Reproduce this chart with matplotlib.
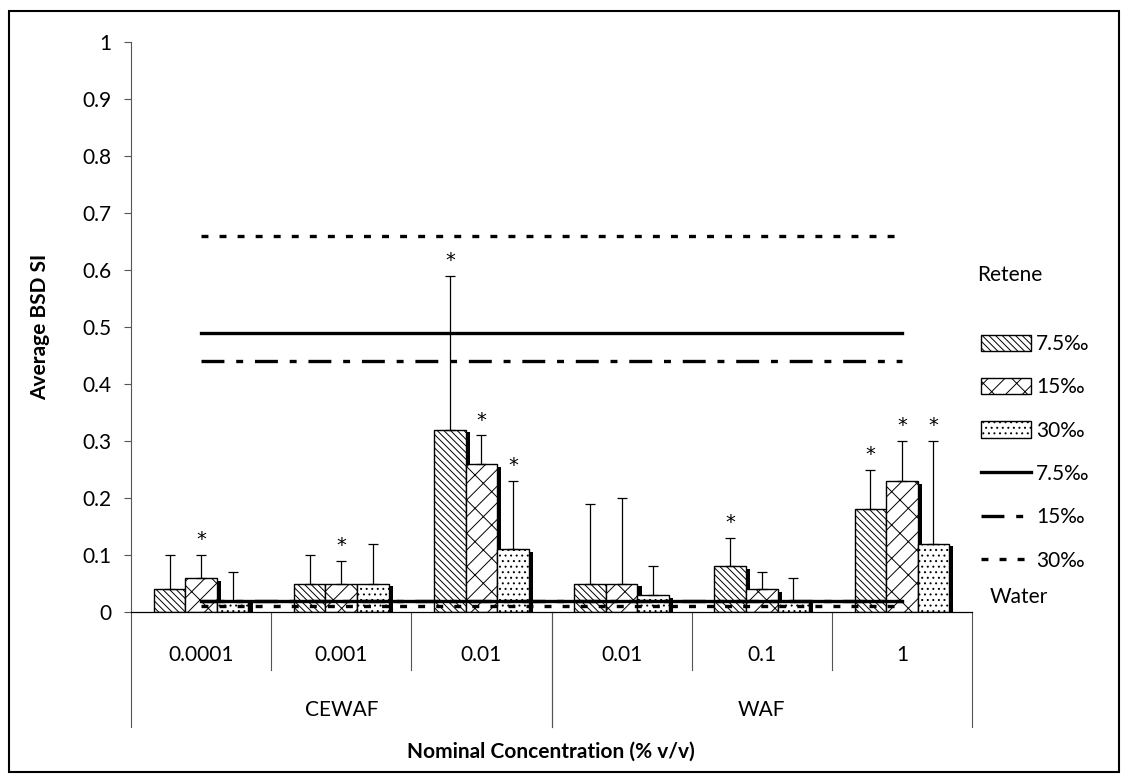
import matplotlib

matplotlib.use("Agg")
import matplotlib.pyplot as plt
import matplotlib.patheffects as pe
import numpy as np
from matplotlib.lines import Line2D
from matplotlib.patches import Patch, Rectangle

plt.rcParams["font.family"] = ["Lato", "DejaVu Sans"]
plt.rcParams["hatch.linewidth"] = 0.7
plt.rcParams["lines.scale_dashes"] = False

# data
concentrations = ["0.0001", "0.001", "0.01", "0.01", "0.1", "1"]
groups = ["CEWAF", "WAF"]
group_bounds = [(-0.5, 2.5), (2.5, 5.5)]
salinities = ["7.5‰", "15‰", "30‰"]

mean_75 = [0.04, 0.05, 0.32, 0.05, 0.08, 0.18]
mean_15 = [0.06, 0.05, 0.26, 0.05, 0.04, 0.23]
mean_30 = [0.02, 0.05, 0.11, 0.03, 0.02, 0.12]
err_75 = [0.06, 0.05, 0.27, 0.14, 0.05, 0.07]
err_15 = [0.04, 0.04, 0.05, 0.15, 0.03, 0.07]
err_30 = [0.05, 0.07, 0.12, 0.05, 0.04, 0.18]
sig_75 = [0, 0, 1, 0, 1, 1]
sig_15 = [1, 1, 1, 0, 0, 1]
sig_30 = [0, 0, 1, 0, 0, 1]

# retene and water control levels
retene_75 = [0.49, 0.49, 0.49, 0.49, 0.49, 0.49]
retene_15 = [0.44, 0.44, 0.44, 0.44, 0.44, 0.44]
retene_30 = [0.66, 0.66, 0.66, 0.66, 0.66, 0.66]
water_75 = [0.02, 0.02, 0.02, 0.02, 0.02, 0.02]
water_15 = [0.02, 0.02, 0.02, 0.02, 0.02, 0.02]
water_30 = [0.01, 0.01, 0.01, 0.01, 0.01, 0.01]

y_ticks = [0, 0.1, 0.2, 0.3, 0.4, 0.5, 0.6, 0.7, 0.8, 0.9, 1]
y_tick_labels = ["0", "0.1", "0.2", "0.3", "0.4", "0.5", "0.6", "0.7", "0.8", "0.9", "1"]

FS = 15
W, H = 1128, 781

fig = plt.figure(figsize=(W / 100, H / 100), dpi=100)
ax = fig.add_axes([131 / W, 1 - 612 / H, 841 / W, 570 / H])

x = np.arange(len(concentrations))
width = 0.225
hatches = ["\\\\\\\\\\", "//\\", "..."]
dash_15 = (16.5, 8.5, 5, 8.5)
dash_30 = (5, 8)
shadow = [pe.SimplePatchShadow(offset=(3, -2), shadow_rgbFace="black", alpha=1), pe.Normal()]

series = [(mean_75, err_75, sig_75), (mean_15, err_15, sig_15), (mean_30, err_30, sig_30)]
for i, (vals, errs, sig) in enumerate(series):
    xs = x + (i - 1) * width
    bars = ax.bar(xs, vals, width, color="white", edgecolor="black", linewidth=1,
                  hatch=hatches[i], zorder=2)
    for b in bars:
        b.set_path_effects(shadow)
    ax.errorbar(xs, vals, yerr=[np.zeros(len(vals)), errs], fmt="none", ecolor="black",
                elinewidth=0.9, capsize=3.6, capthick=0.9, zorder=4)
    tops = np.array(vals) + np.array(errs)
    for xi, top, s in zip(xs, tops, sig):
        if s:
            ax.text(xi, top + 0.017, "*", ha="center", va="baseline", fontsize=14,
                    family="DejaVu Sans", zorder=5)

ax.plot(x, water_15, color="black", lw=2.4, dashes=dash_15, zorder=3)
ax.plot(x, water_75, color="black", lw=2.4, zorder=3)
ax.plot(x, water_30, color="black", lw=2.4, dashes=dash_30, zorder=3)
ax.plot(x, retene_75, color="black", lw=2.4, zorder=3)
ax.plot(x, retene_15, color="black", lw=2.4, dashes=dash_15, zorder=3)
ax.plot(x, retene_30, color="black", lw=2.4, dashes=dash_30, zorder=3)

ax.set_xlim(-0.5, 5.5)
ax.set_ylim(0, 1)
ax.set_xticks([])
ax.set_yticks(y_ticks, y_tick_labels, fontsize=FS)
ax.tick_params(axis="y", length=5, width=0.8, color="#555555", pad=9)
for side in ("top", "right"):
    ax.spines[side].set_visible(False)
ax.spines["left"].set_color("#555555")
ax.spines["left"].set_linewidth(0.8)
ax.spines["bottom"].set_linewidth(0.9)

# multi-level category axis
trans = ax.get_xaxis_transform()
short_drop = -58 / 570
long_drop = -115 / 570
for xi, lab in zip(x, concentrations):
    ax.text(xi, -43 / 570, lab, transform=trans, ha="center", va="center", fontsize=FS)
for (g0, g1), lab in zip(group_bounds, groups):
    ax.text((g0 + g1) / 2, -98 / 570, lab, transform=trans, ha="center", va="center", fontsize=FS)
    ax.plot([g0, g0], [0, long_drop], transform=trans, color="#555555", lw=0.8, clip_on=False)
    ax.plot([g1, g1], [0, long_drop], transform=trans, color="#555555", lw=0.8, clip_on=False)
    for b in np.arange(g0 + 1, g1):
        ax.plot([b, b], [0, short_drop], transform=trans, color="#555555", lw=0.8, clip_on=False)

fig.text(40 / W, 1 - 327 / H, "Average BSD SI", rotation=90, ha="center", va="center",
         fontsize=FS, fontweight="bold")
fig.text(551 / W, 1 - 752 / H, "Nominal Concentration (% v/v)", ha="center", va="center",
         fontsize=FS, fontweight="bold")

# legend
handles = [Patch(facecolor="white", edgecolor="black", hatch=h) for h in hatches]
handles += [Line2D([], [], color="black", lw=2.4),
            Line2D([], [], color="black", lw=2.4, dashes=dash_15),
            Line2D([], [], color="black", lw=2.4, dashes=dash_30)]
labels = salinities + salinities
fig.legend(handles, labels, loc="upper left", bbox_to_anchor=(981 / W, 1 - 334 / H),
           frameon=False, fontsize=FS, borderpad=0, borderaxespad=0, handlelength=2.4,
           handleheight=0.82, handletextpad=0.25, labelspacing=1.12)
fig.text(977 / W, 1 - 275 / H, "Retene", ha="left", va="center", fontsize=FS)
fig.text(990 / W, 1 - 597 / H, "Water", ha="left", va="center", fontsize=FS)

fig.add_artist(Rectangle((9 / W, 1 - 772 / H), 1110 / W, 761 / H, transform=fig.transFigure,
                         fill=False, edgecolor="black", lw=1.5))

fig.savefig("out.png", dpi=100)
